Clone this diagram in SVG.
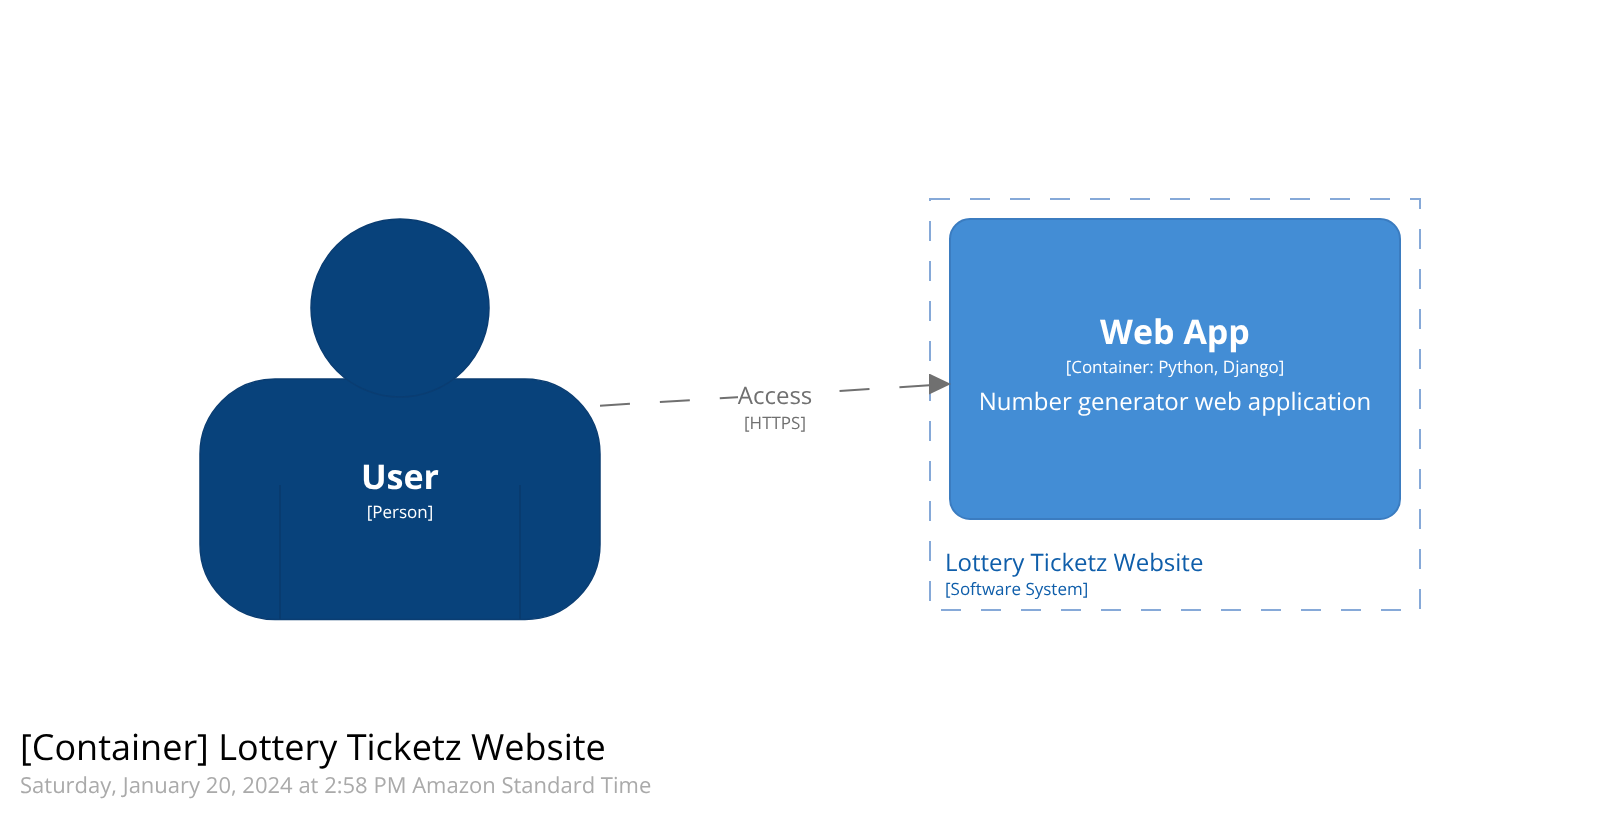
<svg xmlns="http://www.w3.org/2000/svg" width="1620" height="820" viewBox="0 0 1620 820">
  <style>
    text { font-family: "Open Sans", "Noto Sans", "Liberation Sans", sans-serif; text-rendering: geometricPrecision; }
    .mid { text-anchor: middle; }
    .w { fill: #ffffff; }
    .p { fill: #08427b; stroke: #0a3d72; stroke-width: 1.5; }
    .arm { fill: none; stroke: #093a6c; stroke-width: 1.5; }
    .e { fill: #707070; }
    .b { fill: #0f5eaa; }
    .t { filter: url(#plain); }
  </style>
  <defs>
    <filter id="plain" x="0" y="0" width="1" height="1" color-interpolation-filters="sRGB">
      <feOffset dx="0" dy="0"/>
    </filter>
    <marker id="arrow" markerUnits="userSpaceOnUse" markerWidth="24" markerHeight="24" refX="22" refY="10.5" orient="0">
      <path d="M0,0 L22,10.5 L0,21 Z" fill="#707070"/>
    </marker>
  </defs>
  <rect width="1620" height="820" fill="#ffffff"/>

  <g id="boundary-lottery-ticketz-website">
    <rect x="930" y="199" width="490" height="411" fill="none" stroke="#86a9d8" stroke-width="2" stroke-dasharray="20 20"/>
    <g class="t">
      <text x="945" y="571" font-size="24" class="b">Lottery Ticketz Website</text>
      <text x="945" y="595" font-size="17" class="b">[Software System]</text>
    </g>
  </g>

  <g id="node-user">
    <rect x="200" y="379" width="400" height="240.5" rx="75" ry="75" class="p"/>
    <path d="M280,485 V619 M520,485 V619" class="arm"/>
    <circle cx="400" cy="308" r="89" class="p"/>
    <g class="t">
      <text x="400" y="489" font-size="34" font-weight="700" class="mid w">User</text>
      <text x="400" y="518" font-size="17" class="mid w">[Person]</text>
    </g>
  </g>

  <g id="node-web-app">
    <rect x="950" y="219" width="450" height="300" rx="20" ry="20" fill="#438dd5" stroke="#3b7cc0" stroke-width="2"/>
    <g class="t">
      <text x="1175" y="344" font-size="34" font-weight="700" class="mid w">Web App</text>
      <text x="1175" y="373" font-size="17" class="mid w">[Container: Python, Django]</text>
      <text x="1175" y="410" font-size="24" class="mid w">Number generator web application</text>
    </g>
  </g>

  <g id="connectors">
    <line x1="600" y1="405.7" x2="951" y2="384" stroke="#707070" stroke-width="2" stroke-dasharray="30 30" marker-end="url(#arrow)"/>
    <rect x="738" y="380" width="96" height="30" fill="#ffffff"/>
    <g class="t">
      <text x="775" y="404" font-size="24" class="mid e">Access</text>
      <text x="775" y="429" font-size="17" class="mid e">[HTTPS]</text>
    </g>
  </g>

  <g id="title" class="t">
    <text x="20" y="760" font-size="36" fill="#000000">[Container] Lottery Ticketz Website</text>
    <text x="20" y="793" font-size="22" fill="#aaaaaa">Saturday, January 20, 2024 at 2:58 PM Amazon Standard Time</text>
  </g>
</svg>
